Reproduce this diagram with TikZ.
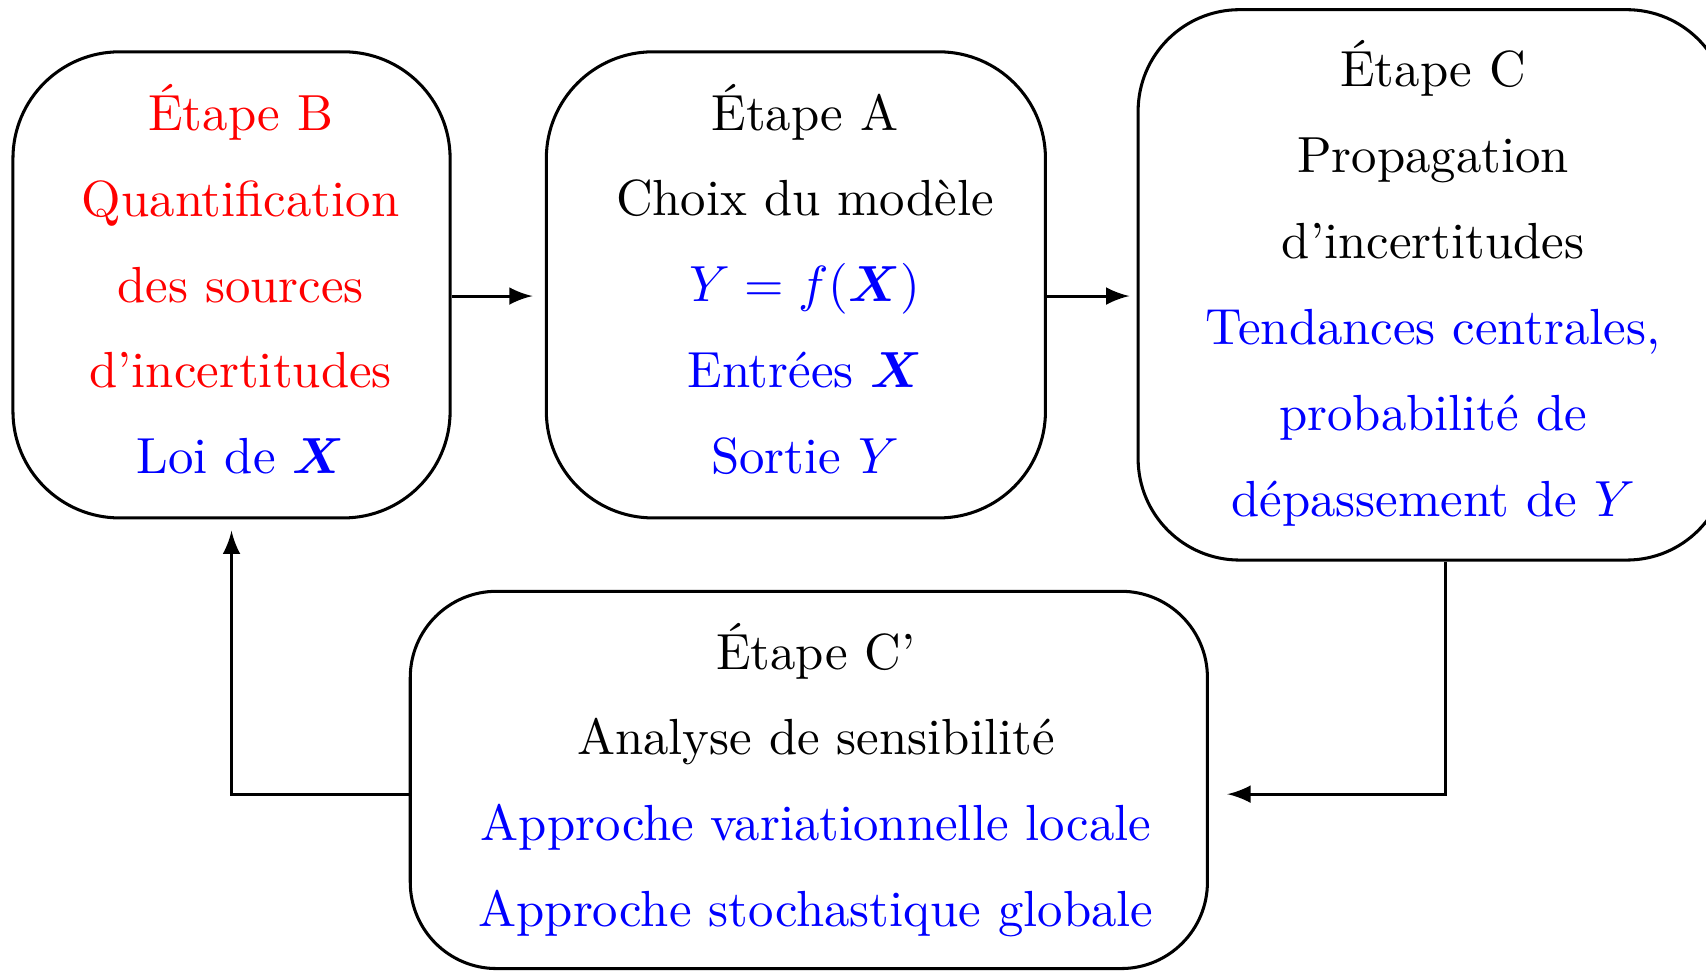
\documentclass[tikz,border=0pt]{standalone}
\usepackage{amsmath, amssymb, amsbsy}
\usepackage{tikz}
\usetikzlibrary{positioning}
\usetikzlibrary{arrows}
\usetikzlibrary{calc}

\begin{document}
\begin{tikzpicture}[semithick, node distance=18pt,
  etape/.style={draw, rounded corners=21pt, inner sep=0pt},
  txt/.style={align=center, inner sep=0pt, font=\fontsize{10pt}{16.9pt}\selectfont}]

\useasboundingbox (0,0) rectangle (336pt,-191.1pt);
\clip (0,0) rectangle (336pt,-191.1pt);

\node (b) [etape, minimum width=86.1pt, minimum height=91.8pt,
  label={[txt, xshift=1.8pt, yshift=1.1pt]center:{\textcolor{red}{Étape B}\\ \textcolor{red}{Quantification}\\
   \textcolor{red}{des sources}\\ \textcolor{red}{d'incertitudes}\\ \textcolor{blue}{Loi de $\boldsymbol{X}$}}}]
  at (45.6pt,-56.1pt) {};
\node (a) [etape, right=18.35pt of b, minimum width=98.3pt, minimum height=91.8pt,
  label={[txt, xshift=1.8pt, yshift=1.1pt]center:{Étape A\\ Choix du modèle\\ \textcolor{blue}{$Y = f(\boldsymbol{X})$}\\
   \textcolor{blue}{Entrées $\boldsymbol{X}$}\\ \textcolor{blue}{Sortie $Y$}}}] {};
\node (c) [etape, right=17.65pt of a, minimum width=116.2pt, minimum height=108.4pt, rounded corners=20pt,
  label={[txt, yshift=0.3pt]center:{Étape C\\ Propagation\\ d'incertitudes\\ \textcolor{blue}{Tendances centrales,}\\
   \textcolor{blue}{probabilité de}\\ \textcolor{blue}{dépassement de $Y$}}}] {};
\node (cp) [etape, minimum width=157pt, minimum height=74.3pt, rounded corners=17pt,
  label={[txt, xshift=1.4pt]center:{Étape C'\\ Analyse de sensibilité\\ \textcolor{blue}{Approche variationnelle locale}\\
   \textcolor{blue}{Approche stochastique globale}}}]
  at (159.3pt,-153.6pt) {};

\draw[-latex, shorten >=2.4pt] ($(b.east)+(0,-2.2pt)$) -- ($(a.west)+(0,-2.2pt)$);
\draw[-latex, shorten >=1.4pt] ($(a.east)+(0,-2.2pt)$) -- ($(c.west)+(0,-2.2pt)$);
\draw[-latex, shorten >=3.6pt] ($(c.south)+(2.4pt,0)$) |- ($(cp.east)+(0,-2.8pt)$);
\draw[-latex, shorten >=2.2pt] ($(cp.west)+(0,-2.8pt)$) -| (b.south);

\end{tikzpicture}
\end{document}
